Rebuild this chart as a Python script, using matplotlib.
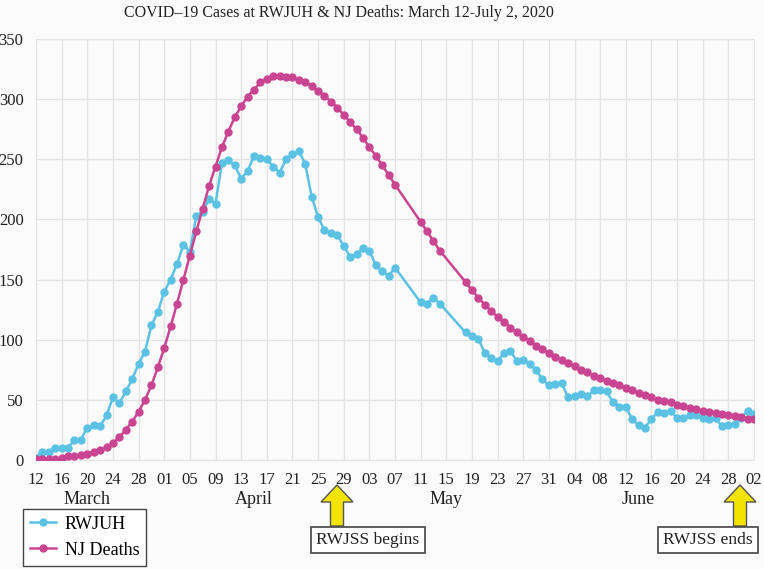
import matplotlib
matplotlib.use("Agg")
import matplotlib.pyplot as plt
import matplotlib.dates as mdates
from matplotlib.patches import FancyArrow
import numpy as np
import pandas as pd

SERIF = ['Liberation Serif', 'DejaVu Serif']
plt.rcParams['font.family'] = SERIF

# daily values from 2020-03-12 to 2020-07-02, None = no report that day
dates = pd.date_range('2020-03-12', '2020-07-02', freq='D')

rwjuh = [2, 7, 7, 10, 10, 10, 17, 17, 27, 29, 28, 37, 52, 47, 57, 67, 80, 90, 112, 123,
         140, 150, 163, 179, 173, 203, 206, 217, 213, 247, 249, 245, 234, 240, 253, 251, 250, 244, 239, 250,
         254, 257, 246, 219, 202, 191, 189, 187, 178, 169, 171, 176, 174, 162, 157, 153, 160, None, None, None,
         131, 130, 135, 130, None, None, None, 106, 103, 101, 89, 85, 82, 89, 91, 82, 83, 80, 75, 67,
         62, 63, 64, 52, 53, 55, 53, 58, 58, 57, 48, 44, 44, 34, 29, 27, 34, 40, 39, 41,
         35, 35, 37, 37, 35, 34, 35, 28, 29, 30, 35, 41, 38]

nj_deaths = [1, 0.5, 0.5, 0.5, 2, 3, 3, 4, 5, 7, 8, 11, 14, 19, 25, 32, 40, 50, 62, 77,
             93, 111, 130, 150, 170, 190, 209, 228, 244, 260, 273, 285, 294, 302, 308, 314, 317, 319, 319, 318.5,
             318, 316, 314, 311, 307, 303, 298, 293, 287, 281, 275, 268, 260, 253, 245, 237, 229, None, None, None,
             198, 190, 182, 174, None, None, None, 148, 141, 135, 129, 124, 119, 115, 110, 106, 102.5, 99, 95, 92,
             89, 86, 83, 81, 78, 75, 73, 70, 68, 66, 64, 62, 60, 58, 56, 54, 52, 50, 49, 48,
             46, 45, 43.5, 42, 41, 40, 39, 38, 37, 36.5, 35.5, 34.5, 34]

months = ['March', 'April', 'May', 'June']
month_pos = ['2020-03-20', '2020-04-15', '2020-05-15', '2020-06-14']

bg = '#fbfbfb'
fig = plt.figure(figsize=(7.64, 5.69), dpi=100, facecolor=bg)
ax = fig.add_axes([36/764, 1 - 460/569, (754-36)/764, (460-39)/569], facecolor=bg)

s1 = pd.Series(rwjuh, index=dates, dtype=float).dropna()
s2 = pd.Series(nj_deaths, index=dates, dtype=float).dropna()
ax.plot(s1.index, s1.values, color='#5bc2e3', lw=1.8, marker='o', ms=5, label='RWJUH', zorder=3)
ax.plot(s2.index, s2.values, color='#c94591', lw=1.8, marker='o', ms=5, label='NJ Deaths', zorder=3)

ax.set_xlim(dates[0], dates[-1])
ax.set_ylim(0, 350)
ax.set_yticks(np.arange(0, 351, 50))
ax.set_xticks(pd.date_range('2020-03-12', '2020-07-02', freq='4D'))
ax.xaxis.set_major_formatter(mdates.DateFormatter('%d'))
ax.tick_params(length=0, labelsize=12, colors='#222222')
ax.tick_params(axis='y', pad=9)
ax.tick_params(axis='x', pad=9)
for lab in ax.get_xticklabels() + ax.get_yticklabels():
    lab.set_fontfamily(SERIF)
ax.grid(True, color='#e4e4e4', lw=1)
for sp in ax.spines.values():
    sp.set_color('#e4e4e4')

for m, p in zip(months, month_pos):
    ax.text(pd.Timestamp(p), -0.095, m, transform=ax.get_xaxis_transform(),
            ha='center', va='center', fontsize=13, color='#222222', family=SERIF)

fig.text(339/764, 1 - 13/569, 'COVID\u201319 Cases at RWJUH & NJ Deaths: March 12-July 2, 2020',
         ha='center', va='center', fontsize=11.5, color='#222222', family=SERIF)

leg = fig.legend(loc='lower left', bbox_to_anchor=(23/764, 3/569),
                 prop={'family': SERIF, 'size': 13},
                 fancybox=False, framealpha=1, facecolor='white', edgecolor='#444444',
                 borderaxespad=0, handlelength=1.4, handletextpad=0.5, labelspacing=0.5)

# arrows and notes under the axis
for cx, tx, label in [(3.37, 3.68, 'RWJSS begins'), (7.40, 7.08, 'RWJSS ends')]:
    fig.patches.append(FancyArrow(cx, 0.43, 0, 0.41, width=0.13, head_width=0.32, head_length=0.17,
                                  length_includes_head=True, fc='#f3e400', ec='#555555', lw=1,
                                  transform=fig.dpi_scale_trans, figure=fig))
    fig.text(tx / 7.64, 0.29 / 5.69, label, ha='center', va='center', fontsize=12.5, color='#222222',
             family=SERIF, bbox=dict(boxstyle='square,pad=0.3', fc='white', ec='#444444', lw=1.2))

fig.savefig('out.png', dpi=100, facecolor=bg)
